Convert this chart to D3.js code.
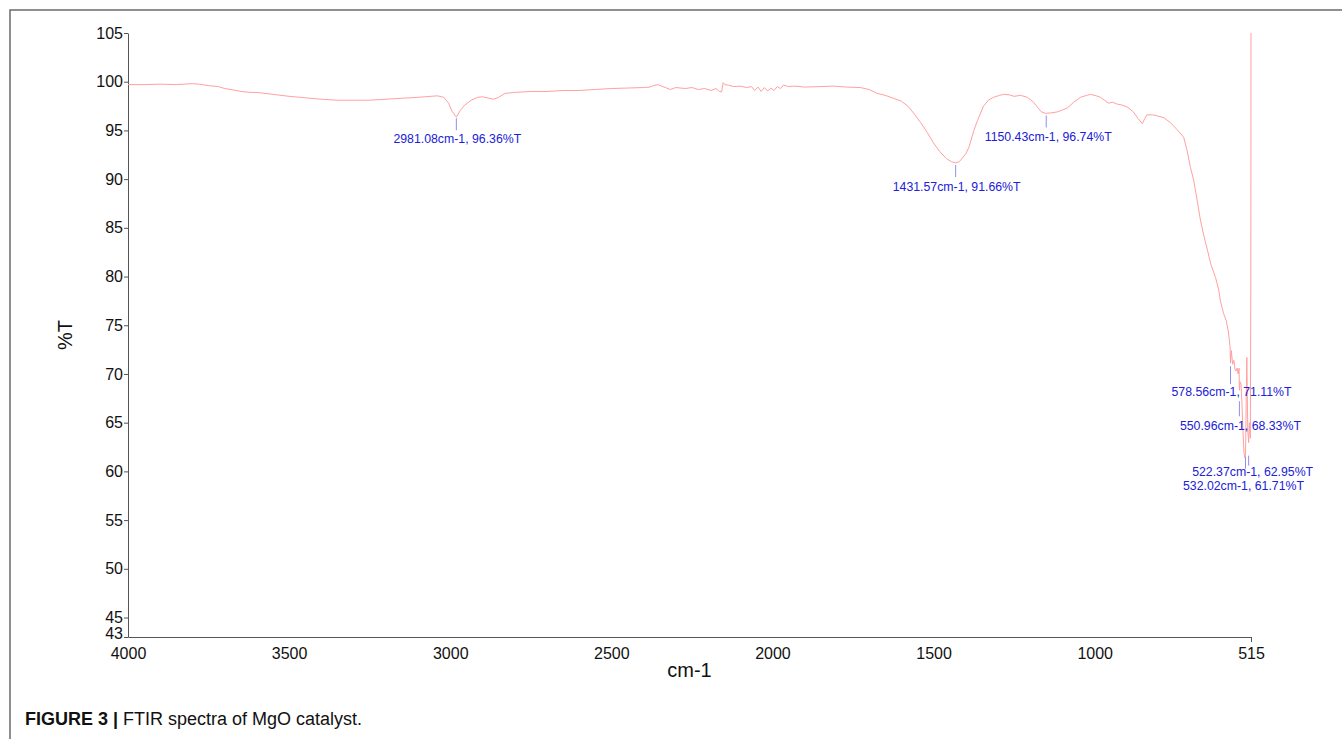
<!DOCTYPE html>
<meta charset="utf-8">
<head>
  <title>FTIR MgO</title>
  <script src="https://cdnjs.cloudflare.com/ajax/libs/d3/7.8.5/d3.min.js"></script>
  <style>
    body { margin: 0; background: #fff; }
    text { font-family: "Liberation Sans", Arial, sans-serif; }
  </style>
</head>
<body>
<div id="chart"></div>
<script>
  var WIDTH = 1342
  var HEIGHT = 739

  // spectrum, wavenumber (cm-1) and %T
  var wavenumber = [4000, 3950, 3900, 3850, 3800, 3780, 3750, 3720, 3700, 3680, 3650, 3620, 3600, 3550, 3500,
    3450, 3400, 3350, 3300, 3250, 3200, 3150, 3100, 3060, 3040, 3020, 3005, 2995, 2981, 2970, 2955, 2935, 2915,
    2900, 2880, 2865, 2850, 2830, 2800, 2750, 2700, 2650, 2600, 2550, 2500, 2450, 2400, 2380, 2370, 2355, 2340,
    2317, 2300, 2270, 2250, 2230, 2210, 2190, 2175, 2165, 2158, 2153, 2148, 2137, 2120, 2100, 2080, 2065, 2055,
    2045, 2035, 2025, 2015, 2005, 1995, 1985, 1975, 1966, 1950, 1930, 1900, 1850, 1811, 1770, 1727, 1700, 1675,
    1650, 1625, 1600, 1580, 1560, 1540, 1520, 1500, 1480, 1460, 1445, 1432, 1420, 1400, 1390, 1375, 1364, 1345,
    1330, 1314, 1295, 1283, 1265, 1250, 1230, 1209, 1190, 1178, 1165, 1152, 1135, 1116, 1100, 1085, 1065, 1044,
    1025, 1013, 995, 982, 970, 957, 945, 930, 915, 899, 880, 865, 852, 845, 838, 820, 806, 785, 765, 745, 724,
    713, 703, 693, 682, 672, 660, 650, 640, 625, 615, 610, 600, 592, 585, 580, 578.56, 576, 572, 568, 565, 562,
    558, 555, 552, 550.96, 549, 546, 543, 540, 537, 534, 532.02, 530, 528, 525, 522.37, 520, 517, 515.5, 515]
  var transmittance = [99.7, 99.7, 99.75, 99.7, 99.8, 99.75, 99.6, 99.5, 99.3, 99.2, 99.0, 98.9, 98.9, 98.7, 98.5,
    98.35, 98.2, 98.1, 98.1, 98.1, 98.2, 98.3, 98.4, 98.5, 98.55, 98.4, 97.8, 97.0, 96.36, 97.0, 97.6, 98.1, 98.4,
    98.45, 98.3, 98.2, 98.4, 98.8, 98.9, 99.0, 99.0, 99.1, 99.1, 99.2, 99.3, 99.35, 99.4, 99.45, 99.6, 99.7, 99.5,
    99.2, 99.4, 99.3, 99.4, 99.2, 99.3, 99.1, 99.3, 99.0, 98.95, 99.9, 99.7, 99.65, 99.5, 99.55, 99.4, 99.5, 99.1,
    99.45, 99.0, 99.4, 99.05, 99.35, 99.1, 99.5, 99.3, 99.65, 99.5, 99.55, 99.45, 99.5, 99.55, 99.45, 99.4, 99.2, 98.8,
    98.6, 98.3, 98.0, 97.5, 96.7, 95.8, 94.8, 93.7, 92.8, 92.1, 91.8, 91.66, 91.8, 92.6, 93.3, 95.0, 96.0, 97.5,
    98.1, 98.4, 98.6, 98.7, 98.65, 98.5, 98.6, 98.4, 97.9, 97.4, 96.9, 96.75, 96.8, 96.9, 97.1, 97.3, 97.9, 98.4,
    98.6, 98.7, 98.55, 98.4, 98.1, 97.8, 97.9, 97.7, 97.6, 97.4, 96.9, 96.2, 95.7, 96.2, 96.6, 96.6, 96.5, 96.3, 95.8, 95.1, 94.3,
    92.9, 91.2, 89.9, 87.8, 85.8, 84.0, 82.7, 81.3, 79.9, 78.6, 77.5, 76.2, 75.5, 74.3, 72.8, 71.11, 72.4, 71.0, 71.4, 70.5, 70.3,
    70.6, 70.0, 70.6, 68.33, 69.2, 69.0, 66.9, 64.2, 62.0, 61.4, 61.71, 66.9, 71.7, 64.2, 62.95, 65.0, 63.4, 80.0, 105]

  // picked peaks
  var peakWavenumber = [2981.08, 1431.57, 1150.43, 578.56, 550.96, 522.37, 532.02]
  var peakT = [96.36, 91.66, 96.74, 71.11, 68.33, 62.95, 61.71]

  var xTicks = [4000, 3500, 3000, 2500, 2000, 1500, 1000, 515]
  var yTicks = [43, 45, 50, 55, 60, 65, 70, 75, 80, 85, 90, 95, 100, 105]

  // label layout tweaks (pixels) so the crowded ones do not sit on top of each other
  var markTop = [1, 2, 2, 3, 11, 13, 2]
  var markLen = [12, 12, 12, 18, 15, 10, 12]
  var labelDx = [1, 1, 2, 1, 1, 4, -2]
  var labelGap = [13, 14, 14, 12, 14, 10, 21]

  var margin = {left: 128, right: 91, top: 33, bottom: 102}

  var svg = d3.select("#chart").append("svg")
    .attr("width", WIDTH)
    .attr("height", HEIGHT)

  // figure frame
  svg.append("path")
    .attr("d", "M10," + HEIGHT + "V10H" + WIDTH)
    .attr("fill", "none")
    .attr("stroke", "#6b6b6b")
    .attr("stroke-width", 1.5)

  var x = d3.scaleLinear()
    .domain([4000, 515])
    .range([margin.left, WIDTH - margin.right])

  var y = d3.scaleLinear()
    .domain([43, 105])
    .range([HEIGHT - margin.bottom, margin.top])

  var g = svg.append("g")

  // y axis
  var yAxis = g.append("g")
    .attr("transform", "translate(" + margin.left + ",0)")
    .call(d3.axisLeft(y).tickValues(yTicks).tickSize(4).tickPadding(1).tickSizeOuter(0))
  yAxis.selectAll("text").attr("font-size", 16).attr("fill", "#111")
  yAxis.selectAll("text").filter(function(d) { return d === 43 }).attr("dy", "0.12em")
  yAxis.selectAll("line").attr("stroke", "#555")
  yAxis.select(".domain").attr("stroke", "#555")

  // x axis
  var xAxis = g.append("g")
    .attr("transform", "translate(0," + (HEIGHT - margin.bottom) + ")")
    .call(d3.axisBottom(x).tickValues(xTicks).tickFormat(d3.format("d"))
      .tickSize(5).tickPadding(6).tickSizeOuter(0))
  xAxis.selectAll("text").attr("font-size", 16).attr("fill", "#111")
  xAxis.selectAll(".tick line").attr("stroke", "#555")
    .attr("y2", function(d) { return d === 515 ? 5 : 0 })
  xAxis.select(".domain").attr("stroke", "#555")

  // spectrum
  var spectrum = wavenumber.map(function(w, i) { return [w, transmittance[i]] })
  g.append("path")
    .datum(spectrum)
    .attr("fill", "none")
    .attr("stroke", "#ffa0a0")
    .attr("stroke-width", 1)
    .attr("d", d3.line()
      .x(function(d) { return x(d[0]) })
      .y(function(d) { return y(d[1]) }))

  // peak markers and labels
  var peaks = g.selectAll(".peak")
    .data(peakWavenumber)
    .enter().append("g")
    .attr("class", "peak")

  peaks.append("line")
    .attr("x1", function(d) { return x(d) })
    .attr("x2", function(d) { return x(d) })
    .attr("y1", function(d, i) { return y(peakT[i]) + markTop[i] })
    .attr("y2", function(d, i) { return y(peakT[i]) + markTop[i] + markLen[i] })
    .attr("stroke", "#8f8ff0")
    .attr("stroke-width", 1)

  peaks.append("text")
    .attr("x", function(d, i) { return x(d) + labelDx[i] })
    .attr("y", function(d, i) { return y(peakT[i]) + markTop[i] + markLen[i] + labelGap[i] })
    .attr("text-anchor", "middle")
    .attr("font-size", 12.3)
    .attr("fill", "#2020d8")
    .text(function(d, i) { return d.toFixed(2) + "cm-1, " + peakT[i].toFixed(2) + "%T" })

  // axis titles
  svg.append("text")
    .attr("transform", "translate(72," + ((margin.top + HEIGHT - margin.bottom) / 2) + ") rotate(-90)")
    .attr("text-anchor", "middle")
    .attr("font-size", 20)
    .attr("fill", "#111")
    .text("%T")

  svg.append("text")
    .attr("x", (margin.left + WIDTH - margin.right) / 2)
    .attr("y", 677)
    .attr("text-anchor", "middle")
    .attr("font-size", 20)
    .attr("fill", "#111")
    .text("cm-1")

  // caption
  var caption = svg.append("text")
    .attr("x", 25)
    .attr("y", 725)
    .attr("font-size", 18)
    .attr("fill", "#111")
  caption.append("tspan").attr("font-weight", "bold").text("FIGURE 3 | ")
  caption.append("tspan").text("FTIR spectra of MgO catalyst.")
</script>
</body>
